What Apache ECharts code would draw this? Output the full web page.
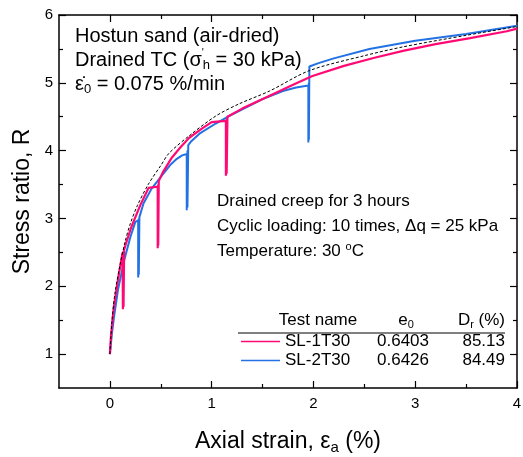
<!DOCTYPE html>
<html>
<head>
<meta charset="utf-8">
<script src="https://cdn.jsdelivr.net/npm/echarts@6/dist/echarts.min.js"></script>
<style>
  html, body { margin: 0; padding: 0; background: #fff; }
  #chart { width: 523px; height: 457px; }
</style>
</head>
<body>
<div id="chart"></div>
<script>
// tick labels
const strainTicks = [0, 1, 2, 3, 4];
const strainMinor = [0.5, 1.5, 2.5, 3.5];
const ratioTicks = [1, 2, 3, 4, 5, 6];
const ratioMinor = [1.5, 2.5, 3.5, 4.5, 5.5];

// legend table
const testNames = ['SL-1T30', 'SL-2T30'];
const voidRatios = ['0.6403', '0.6426'];
const relDensities = ['85.13', '84.49'];

// [axial strain %, stress ratio R]
const sl1 = [
  [0, 1], [0.01, 1.25], [0.02, 1.42], [0.04, 1.7], [0.07, 2.0], [0.1, 2.28], [0.125, 2.5],
  [0.128, 2.5], [0.128, 1.66], [0.134, 2.52], [0.134, 1.7], [0.14, 2.54],
  [0.16, 2.64], [0.21, 2.87], [0.3, 3.2], [0.38, 3.45], [0.47, 3.47],
  [0.47, 2.56], [0.475, 3.5], [0.475, 2.6], [0.48, 3.55],
  [0.52, 3.68], [0.61, 3.9], [0.7, 4.06], [0.78, 4.19], [0.9, 4.32], [1.0, 4.42], [1.14, 4.44],
  [1.14, 3.63], [1.147, 4.47], [1.147, 3.66], [1.155, 4.5],
  [1.17, 4.52], [1.3, 4.62], [1.57, 4.81], [1.8, 4.97], [1.99, 5.1], [2.3, 5.25],
  [2.6, 5.37], [2.88, 5.47], [3.2, 5.57], [3.54, 5.66], [3.9, 5.76], [4, 5.8]
];
const sl2 = [
  [0, 1], [0.02, 1.3], [0.04, 1.54], [0.08, 1.95], [0.14, 2.38], [0.2, 2.72], [0.25, 2.95],
  [0.278, 2.97], [0.278, 2.13], [0.284, 3.0], [0.284, 2.17], [0.29, 3.02],
  [0.33, 3.22], [0.41, 3.44], [0.51, 3.63], [0.6, 3.8], [0.65, 3.87], [0.71, 3.93], [0.755, 3.95],
  [0.755, 3.12], [0.762, 4.0], [0.762, 3.16], [0.77, 4.08],
  [0.8, 4.14], [0.88, 4.25], [1.04, 4.4], [1.17, 4.51], [1.5, 4.76], [1.7, 4.88], [1.83, 4.93], [1.95, 4.96],
  [1.95, 4.12], [1.955, 5.0], [1.955, 4.16], [1.96, 5.24],
  [2.05, 5.29], [2.2, 5.36], [2.55, 5.5], [3.0, 5.62], [3.5, 5.72], [4, 5.84]
];
const monotonic = [
  [0, 1], [0.02, 1.48], [0.05, 1.9], [0.1, 2.32], [0.15, 2.66], [0.2, 2.92], [0.27, 3.19],
  [0.38, 3.51], [0.5, 3.78], [0.58, 3.96], [0.78, 4.22], [1.04, 4.51], [1.27, 4.69],
  [1.57, 4.88], [1.96, 5.18], [2.5, 5.4], [2.88, 5.53], [3.5, 5.7], [4, 5.83]
];

const FONT = '"Liberation Sans", Arial, sans-serif';
const PINK = '#ff0a74';
const BLUE = '#2272e4';

const chart = echarts.init(document.getElementById('chart'));

const gridBox = { left: 59, right: 6, top: 15, bottom: 69, outerBoundsMode: 'none' };

function majorAxis(pos, gridIndex, isX, withLabels) {
  const ax = {
    type: 'value',
    gridIndex: gridIndex,
    position: pos,
    min: isX ? -0.5 : 0.5,
    max: isX ? 4 : 6,
    splitLine: { show: false },
    axisLine: { show: true, onZero: false, lineStyle: { color: '#000', width: 1.5 } },
    axisTick: { show: true, inside: true, length: 7, customValues: isX ? strainTicks : ratioTicks, lineStyle: { color: '#000', width: 1.2 } },
    axisLabel: { show: false }
  };
  if (withLabels) {
    ax.axisLabel = {
      show: true, customValues: isX ? strainTicks : ratioTicks,
      fontFamily: FONT, fontSize: 15, color: '#000', margin: isX ? 8 : 6
    };
  }
  return ax;
}

function minorAxis(pos, isX) {
  return {
    type: 'value',
    gridIndex: 1,
    position: pos,
    min: isX ? -0.5 : 0.5,
    max: isX ? 4 : 6,
    splitLine: { show: false },
    axisLine: { show: false, onZero: false },
    axisTick: { show: true, inside: true, length: 4, customValues: isX ? strainMinor : ratioMinor, lineStyle: { color: '#000', width: 1.2 } },
    axisLabel: { show: false }
  };
}

const xMain = majorAxis('bottom', 0, true, true);
xMain.name = 'Axial strain, ε{s|a} (%)';
xMain.nameLocation = 'middle';
xMain.nameGap = 40;
xMain.nameTextStyle = {
  fontFamily: FONT, fontSize: 23, color: '#000',
  rich: { s: { fontFamily: FONT, fontSize: 15, color: '#000', padding: [12, 0, 0, 0] } }
};

const yMain = majorAxis('left', 0, false, true);
yMain.name = 'Stress ratio, R';
yMain.nameLocation = 'middle';
yMain.nameGap = 25;
yMain.nameTextStyle = { fontFamily: FONT, fontSize: 23, color: '#000' };

const subStyle = (size, shift) => ({ fontFamily: FONT, fontSize: size, fill: '#000', padding: [shift, 0, 0, 0] });
const supStyle = (size, shift) => ({ fontFamily: FONT, fontSize: size, fill: '#000', padding: [0, 0, shift, 0] });

const option = {
  animation: false,
  backgroundColor: '#fff',
  grid: [gridBox, Object.assign({}, gridBox)],
  xAxis: [xMain, majorAxis('top', 0, true, false), minorAxis('bottom', true), minorAxis('top', true)],
  yAxis: [yMain, majorAxis('right', 0, false, false), minorAxis('left', false), minorAxis('right', false)],
  legend: {
    data: testNames,
    orient: 'vertical',
    left: 241,
    top: 333,
    padding: 0,
    icon: 'rect',
    itemWidth: 39,
    itemHeight: 1.6,
    itemGap: 2,
    inactiveColor: '#ccc',
    formatter: function (name) {
      const i = testNames.indexOf(name);
      return '{n|' + name + '}{e|' + voidRatios[i] + '}{d|' + relDensities[i] + '}';
    },
    textStyle: {
      fontFamily: FONT, fontSize: 17, color: '#000',
      rich: {
        n: { fontFamily: FONT, fontSize: 17, color: '#000', width: 92, lineHeight: 20 },
        e: { fontFamily: FONT, fontSize: 17, color: '#000', width: 53, lineHeight: 20 },
        d: { fontFamily: FONT, fontSize: 17, color: '#000', width: 75, align: 'right', lineHeight: 20 }
      }
    }
  },
  graphic: [
    {
      type: 'text', x: 75, y: 24,
      style: {
        text: 'Hostun sand (air-dried)\n{n|Drained TC (σ}{p|\'}{s|h}{n| = 30 kPa)}\n{n|ε̇}{s|0}{n| = 0.075 %/min}',
        font: '20px ' + FONT, fill: '#000', lineHeight: 24,
        rich: {
          n: { fontFamily: FONT, fontSize: 20, fill: '#000', lineHeight: 24 },
          s: subStyle(13, 10),
          p: Object.assign(supStyle(11, 14), { width: 1 })
        }
      }
    },
    {
      type: 'text', x: 217, y: 189,
      style: {
        text: 'Drained creep for 3 hours\nCyclic loading: 10 times, Δq = 25 kPa\n{n|Temperature: 30 }{o|o}{n|C}',
        font: '17px ' + FONT, fill: '#000', lineHeight: 25,
        rich: {
          n: { fontFamily: FONT, fontSize: 17, fill: '#000', lineHeight: 25 },
          o: supStyle(11, 10)
        }
      }
    },
    {
      type: 'text', x: 318, y: 320,
      style: { text: 'Test name', font: '17px ' + FONT, fill: '#000', align: 'center', verticalAlign: 'middle' }
    },
    {
      type: 'text', x: 406, y: 320,
      style: {
        text: '{n|e}{s|0}', font: '17px ' + FONT, fill: '#000', align: 'center', verticalAlign: 'middle',
        rich: { n: { fontFamily: FONT, fontSize: 17, fill: '#000' }, s: subStyle(11, 9) }
      }
    },
    {
      type: 'text', x: 505, y: 320,
      style: {
        text: '{n|D}{s|r}{n| (%)}', font: '17px ' + FONT, fill: '#000', align: 'right', verticalAlign: 'middle',
        rich: { n: { fontFamily: FONT, fontSize: 17, fill: '#000' }, s: subStyle(11, 9) }
      }
    },
    {
      type: 'line',
      shape: { x1: 238, y1: 333, x2: 505, y2: 333 },
      style: { stroke: '#000', lineWidth: 1 }
    }
  ],
  series: [
    {
      name: testNames[1], type: 'line', data: sl2, symbol: 'none', showSymbol: false,
      xAxisIndex: 0, yAxisIndex: 0,
      lineStyle: { color: BLUE, width: 2 }, itemStyle: { color: BLUE }
    },
    {
      name: testNames[0], type: 'line', data: sl1, symbol: 'none', showSymbol: false,
      xAxisIndex: 0, yAxisIndex: 0,
      lineStyle: { color: PINK, width: 2.2 }, itemStyle: { color: PINK }
    },
    {
      name: 'Monotonic', type: 'line', data: monotonic, symbol: 'none', showSymbol: false, smooth: 0.3,
      xAxisIndex: 0, yAxisIndex: 0,
      lineStyle: { color: '#000', width: 1, type: [3, 2] }, itemStyle: { color: '#000' }
    }
  ]
};

chart.setOption(option);
</script>
</body>
</html>
